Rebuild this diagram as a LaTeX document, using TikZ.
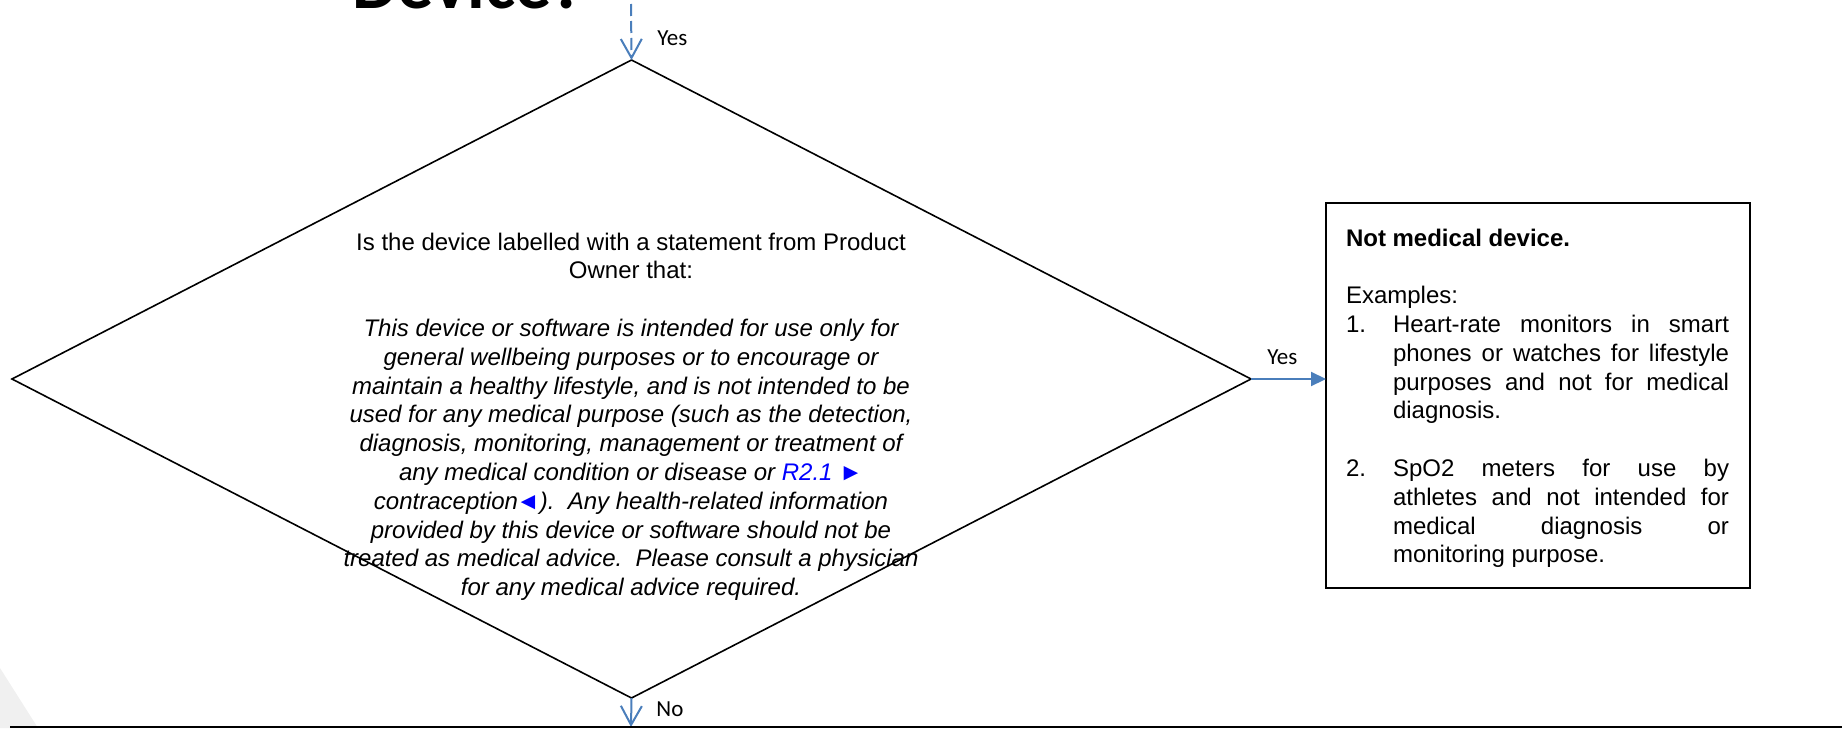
\documentclass[tikz,border=0pt]{standalone}
\usepackage{fontspec}
\setmainfont{Liberation Sans}
\newfontfamily\calibrifont{Carlito}
\usetikzlibrary{arrows.meta,shapes.geometric}
\definecolor{arrowblue}{RGB}{74,126,187}
\definecolor{linkblue}{RGB}{0,0,255}
\begin{document}
\begin{tikzpicture}[x=0.5pt,y=-0.5pt,
  body/.style={font=\fontsize{12}{14.4}\selectfont, inner sep=0, outer sep=0, anchor=base},
  bodyw/.style={font=\fontsize{12}{14.4}\selectfont, inner sep=0, outer sep=0, anchor=base west},
  lbl/.style={font=\calibrifont\fontsize{11.5}{13}\selectfont, inner sep=0, anchor=base west},
  flow/.style={draw=arrowblue, line width=1pt},
  barb/.style={-{Straight Barb[length=9.5pt,width=10.5pt,line width=1pt]}},
  solid head/.style={-{Triangle[length=7.5pt,width=7pt]}}]
\useasboundingbox (0,0) rectangle (1845,728);
% faint grey wedge at bottom left
\fill[gray!12] (0,668) -- (38,728) -- (0,728) -- cycle;
% title (cut off at top)
\node[font=\calibrifont\bfseries\fontsize{36}{42}\selectfont, inner sep=0, anchor=base west] (title) at (352,9) {Device?};
% decision diamond
\node[diamond, draw, line width=0.8pt, minimum width=619.5pt, minimum height=319pt, inner sep=0, outer sep=0] (dec) at (631.5,379) {};
% result box
\node[draw, line width=1pt, minimum width=212pt, minimum height=192.5pt, inner sep=0, outer sep=0] (res) at (1538,395.5) {};
% diamond text
\node[body] (q1) at (631,250) {Is the device labelled with a statement from Product};
\node[body] (q2) at (631,278.8) {Owner that:};
\node[body] (s1) at (631,336.4) {\itshape This device or software is intended for use only for};
\node[body] (s2) at (631,365.2) {\itshape general wellbeing purposes or to encourage or};
\node[body] (s3) at (631,394) {\itshape maintain a healthy lifestyle, and is not intended to be};
\node[body] (s4) at (631,422.8) {\itshape used for any medical purpose (such as the detection,};
\node[body] (s5) at (631,451.6) {\itshape diagnosis, monitoring, management or treatment of};
\node[body] (s6) at (631,480.4) {\itshape any medical condition or disease or {\color{linkblue}R2.1 ►}};
\node[body] (s7) at (631,509.2) {\itshape contraception{\color{linkblue}\kern-1pt◄}).\ \ Any health-related information};
\node[body] (s8) at (631,538) {\itshape provided by this device or software should not be};
\node[body] (s9) at (631,566.8) {\itshape treated as medical advice.\ \ Please consult a physician};
\node[body] (s10) at (631,595.6) {\itshape for any medical advice required.};
% box text
\node[bodyw] (b0) at (1346,246) {\bfseries Not medical device.};
\node[bodyw] (b1) at (1346,303.6) {Examples:};
\node[bodyw] (n1) at (1346,332.4) {1.};
\node[bodyw] (e1a) at (1393,332.4) {\makebox[168pt][s]{Heart-rate monitors in smart}};
\node[bodyw] (e1b) at (1393,361.2) {\makebox[168pt][s]{phones or watches for lifestyle}};
\node[bodyw] (e1c) at (1393,390) {\makebox[168pt][s]{purposes and not for medical}};
\node[bodyw] (e1d) at (1393,418.8) {diagnosis.};
\node[bodyw] (n2) at (1346,476.4) {2.};
\node[bodyw] (e2a) at (1393,476.4) {\makebox[168pt][s]{SpO2 meters for use by}};
\node[bodyw] (e2b) at (1393,505.2) {\makebox[168pt][s]{athletes and not intended for}};
\node[bodyw] (e2c) at (1393,534) {\makebox[168pt][s]{medical diagnosis or}};
\node[bodyw] (e2d) at (1393,562.8) {monitoring purpose.};
% connectors
\coordinate (topstart) at (631,4);
\draw[flow, barb, dash pattern=on 6pt off 2.5pt] (topstart) -- (dec.north);
\draw[flow, solid head] (dec.east) -- (dec.east -| res.west);
\coordinate (noend) at (631,727);
\draw[flow, barb] (dec.south) -- (noend);
% labels
\node[lbl] (yes1) at (657,45.7) {Yes};
\node[lbl] (yes2) at (1267,364) {Yes};
\node[lbl] (no1) at (656,716.7) {No};
% bottom rule
\coordinate (rl) at (10,727);
\coordinate (rr) at (1842,727);
\draw[line width=1pt] (rl) -- (rr);
\end{tikzpicture}
\end{document}
